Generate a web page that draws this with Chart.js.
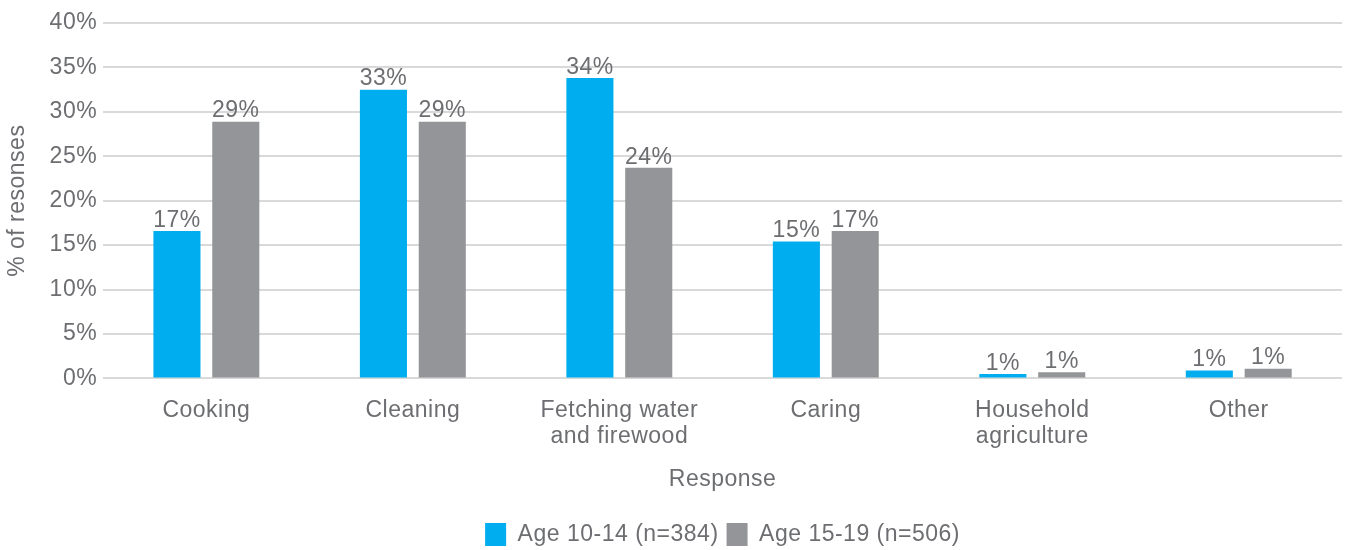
<!DOCTYPE html>
<html>
<head>
<meta charset="utf-8">
<script src="https://cdn.jsdelivr.net/npm/chart.js@4"></script>
<style>
body{margin:0;background:#fff}
#wrap{width:1346px;height:550px}
</style>
</head>
<body>
<div id="wrap"><canvas id="chart"></canvas></div>
<script>
// data
var categories = ["Cooking","Cleaning",["Fetching water","and firewood"],"Caring",["Household","agriculture"],"Other"];
var young = [16.6, 32.5, 33.8, 15.4, 0.5, 0.9];
var older = [28.9, 28.9, 23.7, 16.6, 0.7, 1.1];
var seriesNames = ["Age 10-14 (n=384)", "Age 15-19 (n=506)"];
var yTicks = [0,5,10,15,20,25,30,35,40];

var txt = "#6d6e71";
var fam = "'Liberation Sans', Arial, sans-serif";
var fs = 23;
Chart.defaults.font.family = fam;
Chart.defaults.font.size = fs;
Chart.defaults.color = txt;

// the original type is a bit wider than Arial
var spacing = {
  id: 'spacing',
  beforeUpdate: function(chart){ chart.ctx.letterSpacing = '0.5px'; },
  beforeDraw: function(chart){ chart.ctx.letterSpacing = '0.5px'; }
};

// value labels on top of bars
var barLabels = {
  id: 'barLabels',
  afterDatasetsDraw: function(chart){
    var ctx = chart.ctx;
    ctx.save();
    ctx.fillStyle = txt;
    ctx.font = fs + "px " + fam;
    ctx.textAlign = 'center';
    ctx.textBaseline = 'bottom';
    chart.data.datasets.forEach(function(ds, i){
      chart.getDatasetMeta(i).data.forEach(function(bar, j){
        ctx.fillText(Math.round(ds.data[j]) + '%', bar.x, bar.y + 1);
      });
    });
    ctx.restore();
  }
};

new Chart(document.getElementById("chart"), {
  type: 'bar',
  data: {
    labels: categories,
    datasets: [
      {label: seriesNames[0], data: young, backgroundColor: "#00aeef", categoryPercentage: 0.57, barPercentage: 0.8},
      {label: seriesNames[1], data: older, backgroundColor: "#939598", categoryPercentage: 0.57, barPercentage: 0.8}
    ]
  },
  options: {
    responsive: true,
    maintainAspectRatio: false,
    animation: false,
    layout: {padding: {left: 4, right: 4, top: 23, bottom: -6}},
    plugins: {
      tooltip: {enabled: false},
      legend: {
        position: 'bottom',
        fullSize: false,
        labels: {boxWidth: 21, boxHeight: 23, padding: 8, color: txt, font: {size: fs}}
      }
    },
    scales: {
      x: {
        grid: {display: false, drawTicks: false},
        border: {display: false},
        ticks: {padding: 19, color: txt, font: {size: fs, lineHeight: 1.13}},
        title: {display: true, text: 'Response', color: txt, font: {size: fs}, padding: {top: -3, bottom: 22}}
      },
      y: {
        min: 0, max: 40,
        afterBuildTicks: function(axis){ axis.ticks = yTicks.map(function(v){ return {value: v}; }); },
        grid: {color: "#d9d9d9", lineWidth: 2, drawTicks: false},
        border: {display: false},
        ticks: {padding: 6, color: txt, font: {size: fs}, callback: function(v){ return v + '%'; }},
        title: {display: true, text: '% of resonses', color: txt, font: {size: fs}, padding: {top: 0, bottom: 12}}
      }
    }
  },
  plugins: [spacing, barLabels]
});
</script>
</body>
</html>
